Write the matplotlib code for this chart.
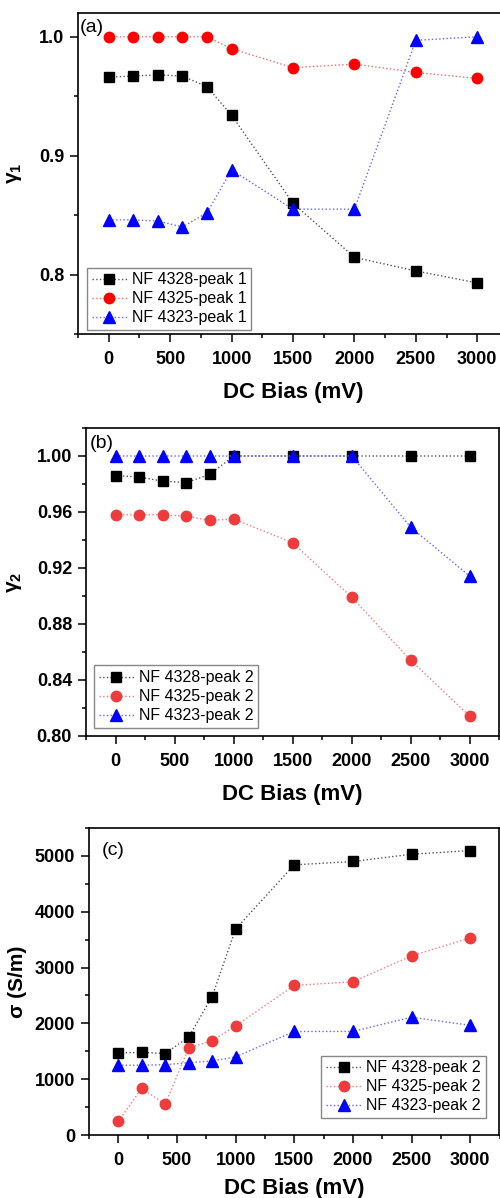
import matplotlib
matplotlib.use('Agg')
import matplotlib.pyplot as plt
from matplotlib.ticker import MultipleLocator, FormatStrFormatter

plt.rcParams['font.family'] = ['Liberation Sans', 'DejaVu Sans']
plt.rcParams['mathtext.fontset'] = 'custom'
plt.rcParams['mathtext.rm'] = 'Liberation Sans'
plt.rcParams['mathtext.bf'] = 'Liberation Sans:bold'
plt.rcParams['mathtext.it'] = 'Liberation Sans:italic'

#data
bias = [0, 200, 400, 600, 800, 1000, 1500, 2000, 2500, 3000]

g1_4328 = [0.966, 0.967, 0.968, 0.967, 0.958, 0.934, 0.860, 0.8145, 0.803, 0.793]
g1_4325 = [1.0, 1.0, 1.0, 1.0, 1.0, 0.990, 0.974, 0.977, 0.970, 0.965]
g1_4323 = [0.846, 0.846, 0.845, 0.840, 0.852, 0.888, 0.855, 0.855, 0.997, 1.0]

g2_4328 = [0.986, 0.985, 0.982, 0.981, 0.987, 1.0, 1.0, 1.0, 1.0, 1.0]
g2_4325 = [0.958, 0.958, 0.958, 0.957, 0.954, 0.955, 0.938, 0.899, 0.854, 0.814]
g2_4323 = [1.0, 1.0, 1.0, 1.0, 1.0, 1.0, 1.0, 1.0, 0.949, 0.914]

s_4328 = [1470, 1480, 1460, 1755, 2480, 3690, 4840, 4900, 5030, 5095]
s_4325 = [245, 835, 550, 1560, 1690, 1955, 2680, 2745, 3210, 3530]
s_4323 = [1250, 1250, 1260, 1295, 1325, 1400, 1855, 1855, 2110, 1965]

W, H = 500, 1198
fig = plt.figure(figsize=(W/100, H/100), dpi=100)

def box(l, r, t, b):
    return [l/W, 1-b/H, (r-l)/W, (b-t)/H]

ax1 = fig.add_axes(box(78, 508, 13, 334))
ax2 = fig.add_axes(box(86, 499.5, 428, 736))
ax3 = fig.add_axes(box(89, 499.5, 828, 1135))

def series(ax, y, c_mark, c_line, m, label, ms=7.5):
    ax.plot(bias, y, linestyle=':', linewidth=1.0, color=c_line, marker=m,
            markersize=ms, markerfacecolor=c_mark, markeredgecolor=c_mark,
            label=label)

def style(ax, ylim, ymaj, ymin, fmt, xpad=10):
    ax.set_xlim(-250, 3250)
    ax.set_ylim(*ylim)
    ax.xaxis.set_major_locator(MultipleLocator(500))
    ax.xaxis.set_minor_locator(MultipleLocator(250))
    ax.yaxis.set_major_locator(MultipleLocator(ymaj))
    ax.yaxis.set_minor_locator(MultipleLocator(ymin))
    ax.yaxis.set_major_formatter(FormatStrFormatter(fmt))
    ax.tick_params(which='both', direction='out', top=False, right=False, width=1.1)
    ax.tick_params(which='major', length=6)
    ax.tick_params(which='minor', length=3)
    ax.tick_params(axis='x', pad=6)
    ax.tick_params(axis='y', pad=4)
    for t in ax.get_xticklabels() + ax.get_yticklabels():
        t.set_fontweight('bold')
        t.set_fontsize(13)
    for s in ax.spines.values():
        s.set_linewidth(1.2)
    ax.set_xlabel('DC Bias (mV)', fontsize=16, fontweight='bold', labelpad=xpad)

# (a)
series(ax1, g1_4328, 'black', '#555555', 's', 'NF 4328-peak 1')
series(ax1, g1_4325, '#ff0000', '#ff6666', 'o', 'NF 4325-peak 1')
series(ax1, g1_4323, '#0000ff', '#6666ff', '^', 'NF 4323-peak 1', ms=8.5)
style(ax1, (0.75, 1.02), 0.1, 0.05, '%.1f')
ax1.set_ylabel(r'$\mathbf{\gamma_1}$', fontsize=15)
ax1.yaxis.set_label_coords(-0.125, 0.5)
ax1.text(0.005, 0.955, '(a)', transform=ax1.transAxes, fontsize=14, va='center', ha='left')
ax1.legend(loc='lower left', bbox_to_anchor=(0.021, 0.012), borderaxespad=0,
           fontsize=11.5, fancybox=False, edgecolor='#888888', framealpha=1,
           handlelength=2.2, handletextpad=0.3, labelspacing=0.25, borderpad=0.3)

# (b)
series(ax2, g2_4328, 'black', '#555555', 's', 'NF 4328-peak 2')
series(ax2, g2_4325, '#ee3b3b', '#f57a7a', 'o', 'NF 4325-peak 2')
series(ax2, g2_4323, '#0000ff', '#6666ff', '^', 'NF 4323-peak 2', ms=8.5)
style(ax2, (0.80, 1.02), 0.04, 0.02, '%.2f')
ax2.set_ylabel(r'$\mathbf{\gamma_2}$', fontsize=15)
ax2.yaxis.set_label_coords(-0.15, 0.5)
ax2.text(0.01, 0.951, '(b)', transform=ax2.transAxes, fontsize=14, va='center', ha='left')
ax2.legend(loc='lower left', bbox_to_anchor=(0.019, 0.026), borderaxespad=0,
           fontsize=11.5, fancybox=False, edgecolor='#888888', framealpha=1,
           handlelength=2.2, handletextpad=0.3, labelspacing=0.25, borderpad=0.3)

# (c)
series(ax3, s_4328, 'black', '#555555', 's', 'NF 4328-peak 2')
series(ax3, s_4325, '#ee3b3b', '#f57a7a', 'o', 'NF 4325-peak 2')
series(ax3, s_4323, '#0000ff', '#6666ff', '^', 'NF 4323-peak 2', ms=8.5)
style(ax3, (0, 5500), 1000, 500, '%d', xpad=7)
ax3.set_ylabel('σ (S/m)', fontsize=15, fontweight='bold')
ax3.yaxis.set_label_coords(-0.15, 0.5)
ax3.text(0.032, 0.928, '(c)', transform=ax3.transAxes, fontsize=14, va='center', ha='left')
ax3.legend(loc='lower right', bbox_to_anchor=(0.966, 0.055), borderaxespad=0,
           fontsize=11.5, fancybox=False, edgecolor='#888888', framealpha=1,
           handlelength=2.2, handletextpad=0.3, labelspacing=0.25, borderpad=0.3)

fig.savefig('out.png', dpi=100)
